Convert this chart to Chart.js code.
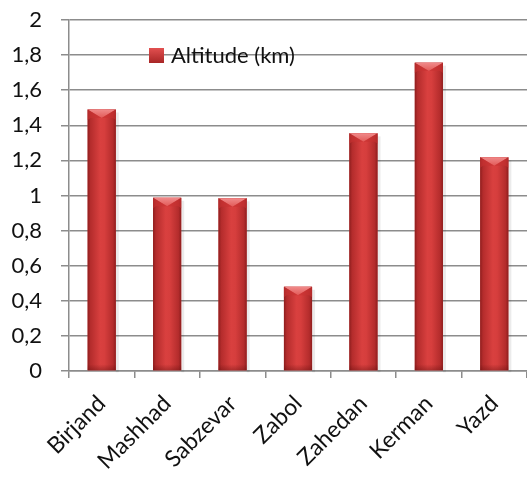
<!DOCTYPE html>
<html lang="en">
<head>
    <meta charset="utf-8" />
    <title>Altitude</title>
    <script src="https://cdn.jsdelivr.net/npm/chart.js@4.4.1/dist/chart.umd.min.js"></script>
    <style>
        html, body {
            margin: 0;
            padding: 0;
            background: #ffffff;
        }
        #wrap {
            width: 527px;
            height: 479px;
        }
    </style>
</head>
<body>
    <div id="wrap"><canvas id="myChart" width="527" height="479"></canvas></div>

    <script>
        var cities = ["Birjand", "Mashhad", "Sabzevar", "Zabol", "Zahedan", "Kerman", "Yazd"];
        var altitude = [1.49, 0.987, 0.984, 0.48, 1.354, 1.757, 1.218];
        var yTicks = [0, 0.2, 0.4, 0.6, 0.8, 1, 1.2, 1.4, 1.6, 1.8, 2];
        var seriesName = "Altitude (km)";

        var gridColor = "#8c8c8c";
        var fontFamily = "Lato, 'Open Sans', sans-serif";

        // paints the rounded/bevelled look of each bar over the flat fill
        var cylinderBars = {
            id: "cylinderBars",
            afterDatasetsDraw: function (chart) {
                var ctx = chart.ctx;
                var meta = chart.getDatasetMeta(0);
                meta.data.forEach(function (bar) {
                    var w = bar.width;
                    var left = bar.x - w / 2, right = bar.x + w / 2;
                    var top = bar.y, bottom = bar.base;
                    var bev = Math.min(w * 0.3, (bottom - top) / 2);

                    ctx.save();
                    // soft shadow on the right
                    ctx.fillStyle = "rgba(0,0,0,0.08)";
                    ctx.fillRect(right, top + 3, 3, bottom - top - 1);

                    var g = ctx.createLinearGradient(left, 0, right, 0);
                    g.addColorStop(0, "#8e1e1e");
                    g.addColorStop(0.1, "#b42c2c");
                    g.addColorStop(0.45, "#d9403f");
                    g.addColorStop(0.6, "#d63e3d");
                    g.addColorStop(0.9, "#b42c2c");
                    g.addColorStop(1, "#8e1e1e");
                    ctx.fillStyle = g;
                    ctx.fillRect(left, top, w, bottom - top);

                    // top bevel
                    ctx.beginPath();
                    ctx.moveTo(left, top);
                    ctx.lineTo(right, top);
                    ctx.lineTo(bar.x, top + bev);
                    ctx.closePath();
                    var tg = ctx.createLinearGradient(0, top, 0, top + bev);
                    tg.addColorStop(0, "#f08a8a");
                    tg.addColorStop(1, "#e25a58");
                    ctx.fillStyle = tg;
                    ctx.fill();

                    ctx.beginPath();
                    ctx.moveTo(left, top);
                    ctx.lineTo(bar.x, top + bev);
                    ctx.lineTo(left + 3, top + bev);
                    ctx.lineTo(left, top + bev + 2);
                    ctx.closePath();
                    ctx.fillStyle = "rgba(200,50,50,0.6)";
                    ctx.fill();

                    ctx.beginPath();
                    ctx.moveTo(right, top);
                    ctx.lineTo(bar.x, top + bev);
                    ctx.lineTo(right - 3, top + bev);
                    ctx.lineTo(right, top + bev + 2);
                    ctx.closePath();
                    ctx.fill();

                    // bottom darkening
                    var bg = ctx.createLinearGradient(0, bottom - 6, 0, bottom);
                    bg.addColorStop(0, "rgba(90,10,10,0)");
                    bg.addColorStop(1, "rgba(90,10,10,0.35)");
                    ctx.fillStyle = bg;
                    ctx.fillRect(left, bottom - 6, w, 6);
                    ctx.restore();
                });
            }
        };

        // legend placed inside the plot, like the original
        var innerLegend = {
            id: "innerLegend",
            afterDraw: function (chart) {
                var ctx = chart.ctx;
                var area = chart.chartArea;
                var x = area.left + 80, y = area.top + 35;
                ctx.save();
                var g = ctx.createLinearGradient(0, y - 7, 0, y + 8);
                g.addColorStop(0, "#e25050");
                g.addColorStop(1, "#a82626");
                ctx.fillStyle = g;
                ctx.fillRect(x, y - 7, 15, 15);
                ctx.fillStyle = "#111111";
                ctx.font = "22px " + fontFamily;
                ctx.textBaseline = "middle";
                ctx.fillText(seriesName, x + 22, y + 1);
                ctx.restore();
            }
        };

        new Chart(document.getElementById("myChart"), {
            type: "bar",
            data: {
                labels: cities,
                datasets: [{
                    label: seriesName,
                    data: altitude,
                    backgroundColor: "#c83232",
                    borderWidth: 0,
                    categoryPercentage: 1,
                    barPercentage: 0.43
                }]
            },
            options: {
                responsive: false,
                animation: false,
                layout: {
                    padding: { top: 20, right: 0, left: 0, bottom: 0 }
                },
                plugins: {
                    legend: { display: false },
                    tooltip: { enabled: false }
                },
                scales: {
                    x: {
                        offset: true,
                        afterFit: function (axis) {
                            axis.height = 108;
                            axis.paddingTop = 0;
                        },
                        grid: {
                            offset: true,
                            drawOnChartArea: false,
                            drawTicks: true,
                            tickLength: 7,
                            color: gridColor,
                            lineWidth: 1.5
                        },
                        border: { color: gridColor, width: 1.5 },
                        ticks: {
                            color: "#111111",
                            font: { family: fontFamily, size: 23 },
                            maxRotation: 45,
                            minRotation: 45,
                            padding: 12
                        }
                    },
                    y: {
                        min: 0,
                        max: 2,
                        afterBuildTicks: function (axis) {
                            axis.ticks = yTicks.map(function (v) { return { value: v }; });
                        },
                        afterFit: function (axis) {
                            axis.width = 69;
                            axis.paddingTop = 0;
                            axis.paddingBottom = 0;
                        },
                        grid: {
                            color: gridColor,
                            lineWidth: 1.5,
                            tickLength: 8
                        },
                        border: { color: gridColor, width: 1.5 },
                        ticks: {
                            color: "#111111",
                            font: { family: fontFamily, size: 22 },
                            padding: 19,
                            callback: function (v) {
                                return String(Math.round(v * 10) / 10).replace(".", ",");
                            }
                        }
                    }
                }
            },
            plugins: [cylinderBars, innerLegend]
        });
    </script>
</body>
</html>
